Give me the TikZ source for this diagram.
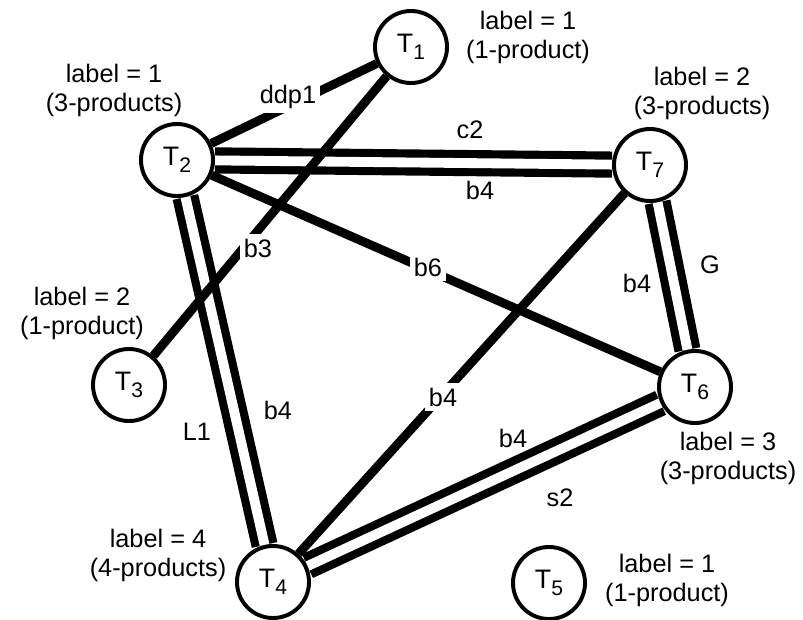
\documentclass[tikz,border=0pt]{standalone}
\usepackage{fontspec}
\setmainfont{Liberation Sans}
\usetikzlibrary{backgrounds}
\definecolor{inkblack}{RGB}{0, 0, 0}
% task name with a large, lowered index
\newcommand{\taskname}[1]{T\raisebox{-5pt}{\fontsize{15pt}{15pt}\selectfont #1}}

\begin{document}
\begin{tikzpicture}[
    x=0.025cm, y=-0.025cm,
    font=\fontsize{18pt}{20.6pt}\selectfont,
    task/.style={circle, draw=inkblack, fill=white, line width=2.8pt, minimum size=1.8cm, inner sep=0pt, font=\fontsize{19pt}{20pt}\selectfont},
    info/.style={align=center, inner sep=0pt, color=inkblack},
    link/.style={line width=6.3pt, color=inkblack},
    twinlink/.style={line width=5.8pt, double=white, double distance=7pt, color=inkblack},
    onlink/.style={fill=white, inner sep=3pt},
    beside/.style={inner sep=0pt},
]
\useasboundingbox (0,0) rectangle (803,619);

% Tasks
\node[task] (T1) at (411,47) {\taskname{1}};
\node[task] (T2) at (177,160) {\taskname{2}};
\node[task] (T3) at (129,385) {\taskname{3}};
\node[task] (T4) at (273,582) {\taskname{4}};
\node[task] (T5) at (549,583) {\taskname{5}};
\node[task] (T6) at (695,387) {\taskname{6}};
\node[task] (T7) at (650,165) {\taskname{7}};

% Labels of the tasks
\node[info] (info1) at (528,37) {label = 1\\(1-product)};
\node[info] (info2) at (114,90) {label = 1\\(3-products)};
\node[info] (info3) at (82,313) {label = 2\\(1-product)};
\node[info] (info4) at (158,555) {label = 4\\(4-products)};
\node[info] (info5) at (667,580) {label = 1\\(1-product)};
\node[info] (info6) at (728,458) {label = 3\\(3-products)};
\node[info] (info7) at (702,93) {label = 2\\(3-products)};

% Links, kept behind the tasks
\begin{pgfonlayer}{background}
\draw[twinlink] (T2) -- (T7);
\draw[twinlink] (T2) -- (T4);
\draw[twinlink] (T7) -- (T6);
\draw[twinlink] (T6) -- (T4);
\draw[link] (T2) -- (T1);
\draw[link] (T1) -- (T3);
\draw[link] (T2) -- (T6);
\draw[link] (T7) -- (T4);
\end{pgfonlayer}

% Names sitting on the single links
\node[onlink] (n12) at (288,97) {ddp1};
\node[onlink] (n13) at (258,248) {b3};
\node[onlink] (n26) at (428,267) {b6};
\node[onlink] (n74) at (443,397) {b4};

% Names beside the double links
\node[beside] (n27a) at (470,130) {c2};
\node[beside] (n27b) at (480,190) {b4};
\node[beside] (n24a) at (197,432) {L1};
\node[beside] (n24b) at (278,410) {b4};
\node[beside] (n76a) at (637,283) {b4};
\node[beside] (n76b) at (710,265) {G};
\node[beside] (n64a) at (513,438) {b4};
\node[beside] (n64b) at (560,498) {s2};

\end{tikzpicture}
\end{document}
